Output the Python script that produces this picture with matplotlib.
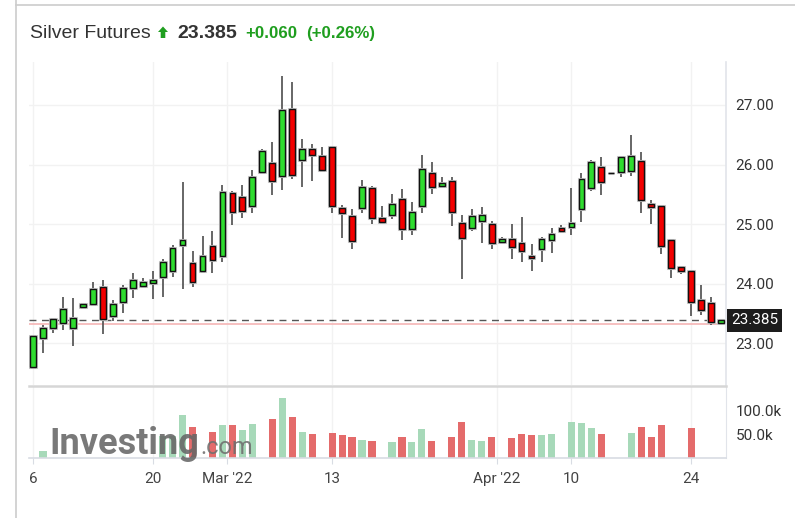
import matplotlib.pyplot as plt
from matplotlib.lines import Line2D
from matplotlib.patches import Polygon
import numpy as np

# daily OHLC, Silver Futures (Feb 6 - Apr 26 2022 session bars)
opens = [22.60, 23.09, 23.26, 23.34, 23.26, 23.61, 23.66, 23.94, 23.46, 23.69,
         23.92, 23.96, 24.01, 24.11, 24.22, 24.65, 24.35, 24.22, 24.64, 24.47,
         25.52, 25.46, 25.31, 25.87, 26.02, 25.81, 26.93, 26.08, 26.26, 26.15,
         26.30, 25.27, 25.13, 25.27, 25.60, 25.10, 25.16, 25.42, 24.92, 25.31,
         25.85, 25.64, 25.73, 25.02, 24.93, 25.06, 25.00, 24.70, 24.75, 24.69,
         24.47, 24.59, 24.74, 24.93, 24.95, 25.26, 25.60, 25.96, 25.85, 25.87,
         25.89, 26.06, 25.34, 25.31, 24.73, 24.28, 24.22, 23.73, 23.68, 23.34]
highs = [23.14, 23.31, 23.42, 23.78, 23.76, 23.68, 24.03, 24.07, 23.72, 23.98,
         24.18, 24.09, 24.22, 24.42, 24.65, 25.70, 24.55, 24.80, 24.89, 25.66,
         25.56, 25.66, 25.91, 26.26, 26.37, 27.49, 27.38, 26.43, 26.35, 26.29,
         26.30, 25.32, 25.26, 25.74, 25.64, 25.31, 25.51, 25.59, 25.37, 26.16,
         26.04, 25.79, 25.79, 25.15, 25.26, 25.28, 25.06, 24.78, 25.01, 25.12,
         24.67, 24.78, 24.94, 24.98, 25.60, 25.85, 26.08, 26.12, 25.85, 26.13,
         26.50, 26.21, 25.41, 25.31, 24.74, 24.29, 24.22, 23.98, 23.78, 23.39]
lows = [22.60, 22.84, 23.17, 23.22, 22.95, 23.58, 23.63, 23.16, 23.37, 23.51,
        23.76, 23.94, 23.74, 23.78, 24.12, 23.91, 23.94, 24.22, 24.18, 24.37,
        24.98, 25.10, 25.18, 25.87, 25.48, 25.58, 25.75, 25.63, 25.72, 25.88,
        25.18, 24.77, 24.58, 25.18, 25.00, 25.04, 25.08, 24.73, 24.81, 25.18,
        25.50, 25.64, 24.96, 24.08, 24.88, 24.68, 24.58, 24.69, 24.41, 24.37,
        24.22, 24.36, 24.52, 24.89, 24.81, 25.04, 25.55, 25.48, 25.85, 25.79,
        25.81, 25.18, 25.00, 24.49, 24.09, 24.16, 23.45, 23.47, 23.30, 23.33]
closes = [23.13, 23.26, 23.41, 23.58, 23.42, 23.66, 23.91, 23.41, 23.66, 23.93,
          24.06, 24.03, 24.06, 24.37, 24.60, 24.73, 24.03, 24.47, 24.39, 25.54,
          25.20, 25.22, 25.79, 26.23, 25.73, 26.91, 25.83, 26.26, 26.16, 25.91,
          25.31, 25.18, 24.72, 25.63, 25.10, 25.04, 25.34, 24.92, 25.21, 25.92,
          25.62, 25.69, 25.20, 24.77, 25.13, 25.15, 24.68, 24.75, 24.61, 24.55,
          24.43, 24.75, 24.84, 24.89, 25.01, 25.75, 26.05, 25.70, 25.85, 26.13,
          26.15, 25.41, 25.28, 24.64, 24.27, 24.22, 23.69, 23.56, 23.36, 23.385]
# volume in thousands, nan = no bar shown
nan = float('nan')
volumes = [nan, 15.4, nan, nan, nan, nan, nan, nan, nan, nan,
           nan, nan, nan, 45, 45, 88.8, 65, nan, 54.5, 67.8,
           67.8, 57.3, 70, nan, 80.4, 125.9, 86, 54.5, 49, nan,
           52.4, 46.9, 44, 38.5, 36.4, nan, 33.6, 44, 33.6, 59.4,
           36.4, nan, 44, 75.5, 38.5, 36.4, 44, nan, 41.3, 49,
           46.9, 46.9, 49, nan, 75.5, 72.7, 62.2, 49, nan, nan,
           52.4, 65, 44, 67.8, nan, nan, 62.2, nan, nan, nan]

tick_pos = [0, 12, 19.5, 30, 46.5, 54, 66]
tick_labels = ['6', '20', "Mar '22", '13', "Apr '22", '10', '24']
price_ticks = [23, 24, 25, 26, 27]
vol_ticks = [50, 100]
last_price = 23.385
prev_close = 23.325

W, H = 795, 518
fig = plt.figure(figsize=(W / 100, H / 100), dpi=100)


def box(x0, y0, x1, y1):
    return [x0 / W, 1 - y1 / H, (x1 - x0) / W, (y1 - y0) / H]


ax = fig.add_axes(box(29, 62, 726, 385))
axv = fig.add_axes(box(29, 386, 726, 458), sharex=ax)

x = np.arange(len(opens))
o = np.array(opens)
c = np.array(closes)
up = c >= o
body_col = np.where(up, '#2fdc2f', '#f20000')

# candles
ax.vlines(x, lows, highs, color='#5a5a5a', lw=1.3, zorder=2)
ax.bar(x, np.maximum(np.abs(c - o), 0.01), bottom=np.minimum(o, c), width=0.58,
       color='#c8c8c8', edgecolor='#c8c8c8', linewidth=2.2, zorder=2.5)
ax.bar(x, np.maximum(np.abs(c - o), 0.01), bottom=np.minimum(o, c), width=0.58,
       color=body_col, edgecolor='#111111', linewidth=1.0, zorder=3)

ax.axhline(prev_close, color='#f5b5b5', lw=1.2, zorder=1)
ax.axhline(last_price, color='#555555', lw=1.0, ls=(0, (5, 4)), zorder=1)

ax.set_xlim(-0.4, 69.5)
ax.set_ylim(22.30, 27.72)
ax.set_yticks(price_ticks)
ax.set_yticklabels(['%.2f' % v for v in price_ticks])
ax.yaxis.tick_right()
ax.tick_params(axis='y', length=0, pad=7, labelsize=11, labelcolor='#333333')
ax.set_xticks(tick_pos)
ax.tick_params(axis='x', length=0, labelbottom=False)
ax.grid(True, color='#f2f2f2', lw=1)
ax.set_axisbelow(True)
for s in ['top', 'left', 'bottom']:
    ax.spines[s].set_visible(False)
ax.spines['right'].set_color('#e1e4ea')
ax.spines['right'].set_linewidth(1.2)

ax.annotate('23.385', xy=(1, last_price), xycoords=('axes fraction', 'data'),
            xytext=(3.5, 0), textcoords='offset points', ha='left', va='center',
            fontsize=11, color='white', family='Roboto',
            bbox=dict(boxstyle='square,pad=0.28', fc='#1c1c1c', ec='none'))

# volume
vol = np.array(volumes, dtype=float)
chg = np.diff(c, prepend=c[0])
vcol = np.where(chg >= 0, '#a7d9b9', '#e46b6b')
m = ~np.isnan(vol)
axv.bar(x[m], vol[m], width=0.72, color=vcol[m], zorder=2)
axv.set_ylim(0, 150)
axv.set_yticks(vol_ticks)
axv.set_yticklabels(['%.1fk' % v for v in vol_ticks])
axv.yaxis.tick_right()
axv.tick_params(axis='y', length=0, pad=7, labelsize=11, labelcolor='#333333')
axv.set_xticks(tick_pos)
axv.set_xticklabels(tick_labels)
axv.tick_params(axis='x', length=4, color='#d8dce3', pad=6, labelsize=11,
                labelcolor='#444444')
axv.grid(True, axis='x', color='#f2f2f2', lw=1)
axv.set_axisbelow(True)
axv.spines['left'].set_visible(False)
axv.spines['top'].set_color('#d6d6d6')
axv.spines['top'].set_linewidth(1.8)
axv.spines['right'].set_color('#e1e4ea')
axv.spines['bottom'].set_color('#d8dce3')
axv.spines['bottom'].set_linewidth(1.2)

for a in (ax, axv):
    for lab in a.get_xticklabels() + a.get_yticklabels():
        lab.set_family('Roboto')

# watermark
fig.text(49 / W, 1 - 454 / H, 'Investing', fontsize=26, fontweight='bold',
         family='Roboto', color='#666666', alpha=0.88, va='baseline')
fig.text(200 / W, 1 - 454 / H, '.com', fontsize=17, family='Roboto',
         color='#6e6e6e', alpha=0.88, va='baseline')

# header
base = 1 - 37.7 / H
fig.text(30 / W, base, 'Silver Futures', fontsize=14, family='Liberation Sans',
         color='#333333', va='baseline')
arrow = [(158, 32), (163, 26.5), (168, 32), (165.3, 32), (165.3, 38), (160.7, 38), (160.7, 32)]
fig.add_artist(Polygon([(px / W, 1 - py / H) for px, py in arrow], closed=True,
                       transform=fig.transFigure, fc='#1f9e1f', ec='none'))
fig.text(177 / W, base, '23.385', fontsize=14, fontweight='bold',
         family='Liberation Sans', color='#333333', va='baseline')
fig.text(245 / W, base, '+0.060', fontsize=12.2, fontweight='bold',
         family='Liberation Sans', color='#1f9e1f', va='baseline')
fig.text(306 / W, base, '(+0.26%)', fontsize=12.2, fontweight='bold',
         family='Liberation Sans', color='#1f9e1f', va='baseline')

# outer frame lines
fig.add_artist(Line2D([16 / W, 16 / W], [0, 1], color='#cccccc', lw=1.2,
                      transform=fig.transFigure))
fig.add_artist(Line2D([16 / W, 1], [1 - 5 / H, 1 - 5 / H], color='#cccccc', lw=1.2,
                      transform=fig.transFigure))

fig.savefig('out.png', dpi=100)
